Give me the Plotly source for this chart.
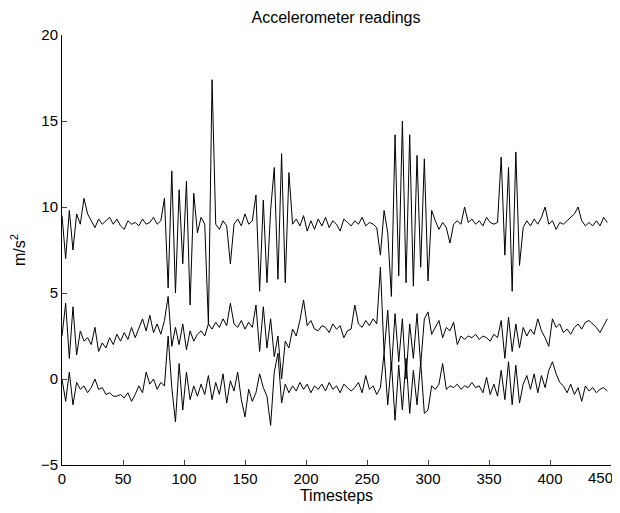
import plotly.graph_objects as go

timesteps = list(range(0, 450, 3))

top_series = [
    9.5, 7.0, 9.8, 7.5, 9.6, 9.0, 10.5, 9.6, 9.2, 8.8,
    9.3, 9.0, 9.2, 9.4, 9.0, 9.3, 8.9, 8.7, 9.2, 9.0,
    9.1, 8.9, 9.3, 9.0, 9.1, 9.4, 9.0, 9.2, 10.5, 5.3,
    12.1, 5.0, 11.0, 6.7, 11.5, 4.3, 10.8, 8.5, 9.4, 9.0,
    3.2, 17.4, 9.0, 8.7, 9.2, 8.9, 6.7, 9.0, 9.3, 8.9,
    9.6, 9.0, 9.2, 10.7, 5.1, 10.4, 5.6, 9.8, 12.3, 5.8,
    13.1, 5.6, 12.0, 9.0, 9.3, 8.9, 9.5, 8.6, 9.2, 8.7,
    9.3, 8.9, 9.4, 8.8, 9.2, 9.0, 8.6, 9.3, 9.1, 8.9,
    9.2, 9.0, 9.4, 8.9, 9.1, 9.0, 8.8, 7.2, 9.8, 8.5,
    4.8, 14.2, 6.0, 15.0, 5.6, 14.2, 5.4, 13.0, 6.5, 12.8,
    5.7, 9.8, 9.2, 8.7, 9.1, 8.8, 7.9, 9.0, 9.2, 9.0,
    10.0, 9.1, 9.3, 9.0, 9.2, 8.9, 9.4, 9.1, 9.0, 9.1,
    12.9, 7.2, 12.3, 5.1, 13.2, 6.6, 8.8, 9.2, 8.9, 9.3,
    9.0, 9.4, 10.0, 9.0, 9.2, 8.7, 9.1, 9.0, 9.2, 9.4,
    9.6, 10.0, 9.2, 8.9, 9.1, 8.9, 9.2, 8.9, 9.4, 9.1,
]

middle_series = [
    2.5, 4.4, 1.2, 4.2, 1.4, 2.8, 2.2, 2.4, 2.0, 3.0,
    1.6, 2.1, 1.8, 2.4, 2.0, 2.6, 2.2, 2.7, 2.3, 3.0,
    2.4, 3.0, 3.5, 2.8, 3.7, 2.7, 3.2, 2.6, 3.4, 4.8,
    1.9, 3.0, 2.0, 3.2, 1.7, 2.8, 2.2, 2.6, 2.8, 2.5,
    3.2, 2.9, 3.3, 3.0, 3.5, 3.1, 4.4, 3.2, 3.0, 3.4,
    2.9, 3.3, 3.0, 4.3, 1.6, 4.2, 1.8, 3.5, 1.3, 2.5,
    0.0, 2.2, 1.8, 2.9, 2.5, 3.4, 4.6, 3.1, 3.4, 2.9,
    2.8, 3.1, 3.0, 2.7, 3.2, 2.9, 3.1, 2.4, 2.8, 2.9,
    4.3, 3.2, 3.0, 3.4, 3.1, 3.5, 3.2, 6.5, 1.5, 4.0,
    0.5, 3.8, 1.0, 3.5, 0.0, 3.2, 1.2, 3.8, 0.8, 3.5,
    3.9, 2.6, 3.0, 3.4, 2.4, 3.0, 2.8, 3.3, 2.0, 2.5,
    2.3, 2.5, 2.4, 2.6, 2.3, 2.5, 2.4, 2.2, 2.6, 2.4,
    3.4, 1.2, 3.6, 1.6, 3.2, 1.8, 3.0, 2.5, 2.9, 2.6,
    3.5, 2.8, 2.4, 1.9, 3.5, 3.0, 3.2, 2.7, 2.9, 2.6,
    3.0, 3.2, 2.9, 3.3, 3.4, 3.2, 3.0, 2.7, 3.1, 3.5,
]

bottom_series = [
    0.0, -1.3, 0.4, -1.5, -0.2, -0.6, -0.4, -0.8, -0.5, 0.0,
    -0.6, -0.5, -0.9, -0.8, -1.0, -1.0, -0.9, -1.1, -0.8, -1.3,
    -0.9, -0.4, -0.8, 0.4, -0.3, 0.0, -0.6, -0.2, -0.4, 2.5,
    -0.5, -2.5, 0.9, -1.8, 0.4, -1.2, -0.4, -1.0, -0.3, -0.9,
    0.2, -1.2, -0.2, -0.9, 0.3, -1.4, -0.1, -0.7, 0.4, -1.2,
    -2.2, -0.6, -1.3, -0.8, 0.3, -0.5, -1.0, -2.7, 0.4, 1.5,
    -1.4, -0.3, -0.8, -0.4, -0.7, -0.2, -0.6, -0.3, -0.8, -0.4,
    -0.6, -0.3, -0.7, -0.2, -0.6, -0.4, -0.8, -0.3, -0.5, -0.7,
    -0.5, -0.2, -0.8, 0.2, -0.6, -0.4, -0.9, -0.5, 1.5, -1.5,
    1.0, -2.4, 0.8, -1.8, 1.2, -2.0, 0.5, -1.5, 1.0, -2.0,
    -1.8, -0.4, -0.6, -0.3, 0.9, -0.6, -0.4, -0.5, -0.3, -0.6,
    -0.4, -0.5, -0.2, -0.5, -0.4, -0.8, 0.1, -0.9, -0.3, -1.0,
    0.5, -1.2, 1.0, -1.5, 0.8, -1.4, -0.3, 0.2, -0.6, 0.3,
    -0.8, 0.2, -0.5, 0.5, 1.0, 0.3, -0.2, -0.4, -0.8, -0.3,
    -0.9, -0.5, -1.3, -0.4, -0.7, -0.5, -0.8, -0.6, -0.5, -0.7,
]

x_ticks = [0, 50, 100, 150, 200, 250, 300, 350, 400, 450]
x_tick_labels = ["0", "50", "100", "150", "200", "250", "300", "350", "400", ""]
last_x_label = "450"
y_ticks = [-5, 0, 5, 10, 15, 20]

fig = go.Figure()
for ys in (top_series, middle_series, bottom_series):
    fig.add_trace(go.Scatter(x=timesteps, y=ys, mode="lines",
                             line=dict(color="black", width=1),
                             showlegend=False, hoverinfo="skip"))

font_family = "Liberation Sans, Arial, sans-serif"
fig.update_layout(
    width=612, height=505,
    margin=dict(l=54, r=9, t=27, b=48, autoexpand=False),
    paper_bgcolor="white", plot_bgcolor="white",
    font=dict(family=font_family, size=15, color="black"),
    title=dict(text="Accelerometer readings", x=(328 / 612), xanchor="center",
               y=1 - 9 / 505, yanchor="middle", font=dict(size=16)),
)
# last tick label placed so that it stays inside the page (as in the reference)
fig.add_annotation(text=last_x_label, x=x_ticks[-1], xref="x", y=0, yref="paper",
                   xanchor="right", yanchor="top", xshift=3, yshift=-3,
                   showarrow=False, borderpad=0, font=dict(size=15))
fig.update_xaxes(range=[0, 450], tickvals=x_ticks, ticktext=x_tick_labels,
                 ticks="inside", ticklen=5,
                 showline=True, linecolor="black", linewidth=1, mirror=False,
                 showgrid=False, zeroline=False, automargin=False,
                 title=dict(text="Timesteps", standoff=2, font=dict(size=16)),
                 tickfont=dict(size=15))
fig.update_yaxes(range=[-5, 20], tickvals=y_ticks, ticks="inside", ticklen=5,
                 showline=True, linecolor="black", linewidth=1, mirror=False,
                 showgrid=False, zeroline=False, automargin=False,
                 title=dict(text="m/s<sup>2</sup>", standoff=14, font=dict(size=16)),
                 tickfont=dict(size=15))

fig.write_html("out.html")
